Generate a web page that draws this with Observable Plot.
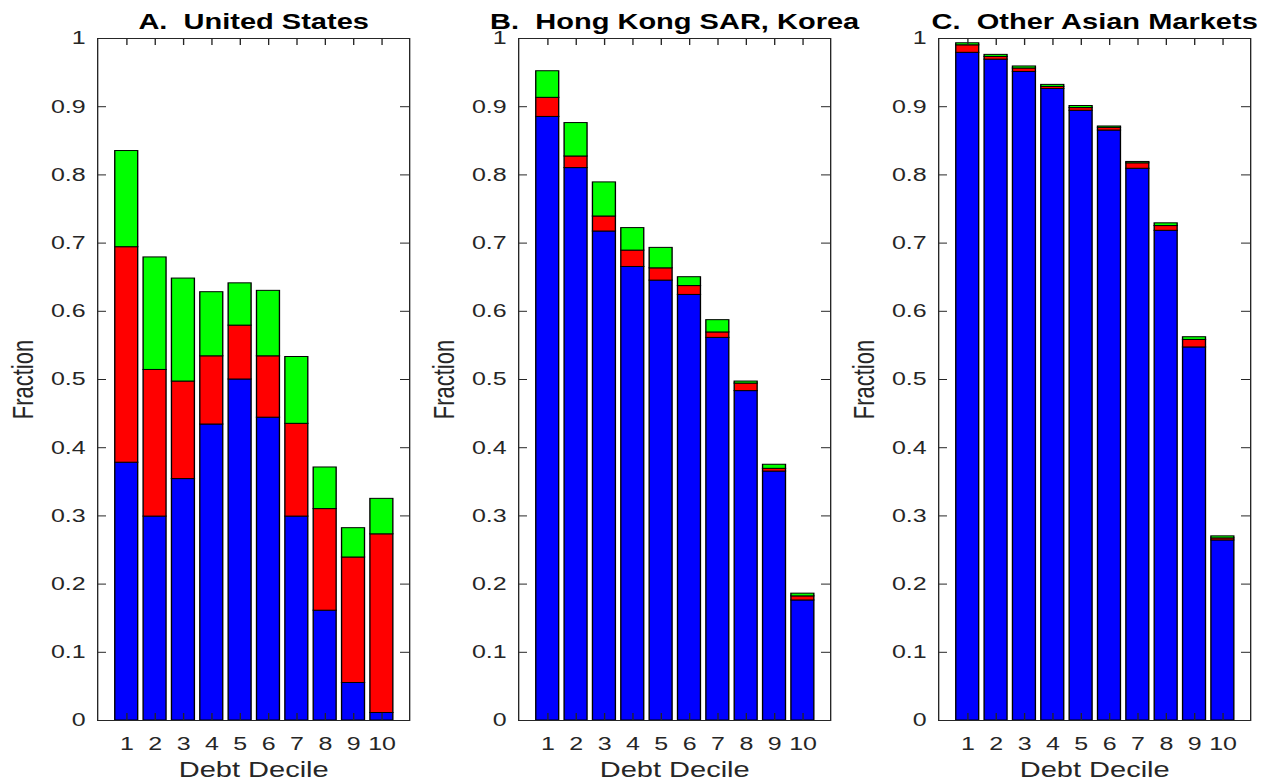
<!DOCTYPE html>
<html>
<head>
<meta charset="utf-8">
<script src="https://cdn.jsdelivr.net/npm/d3@7"></script>
<script src="https://cdn.jsdelivr.net/npm/@observablehq/plot@0.6"></script>
<style>
  body { margin: 0; background: #fff; }
  #chart { position: relative; width: 1268px; height: 783px; overflow: hidden; background: #fff; }
  .panel { position: absolute; top: 0; }
  .panel svg text { white-space: pre; }
</style>
</head>
<body>
<div id="chart"></div>
<script>
// ---------------- data ----------------
const deciles = [1, 2, 3, 4, 5, 6, 7, 8, 9, 10];
const seriesNames = ["Component 1", "Component 2", "Component 3"];
const seriesColors = ["#0000ff", "#ff0000", "#00ff00"];
const yTicks = [0, 0.1, 0.2, 0.3, 0.4, 0.5, 0.6, 0.7, 0.8, 0.9, 1];
const panelTitles = ["A.  United States", "B.  Hong Kong SAR, Korea", "C.  Other Asian Markets"];
const xLabel = "Debt Decile";
const yLabel = "Fraction";

// Panel A: United States (segment heights, bottom to top)
const usBlue  = [0.378, 0.299, 0.354, 0.434, 0.500, 0.444, 0.299, 0.161, 0.055, 0.011];
const usRed   = [0.316, 0.215, 0.143, 0.100, 0.079, 0.090, 0.136, 0.149, 0.184, 0.262];
const usGreen = [0.141, 0.165, 0.151, 0.094, 0.062, 0.096, 0.098, 0.061, 0.043, 0.052];

// Panel B: Hong Kong SAR, Korea
const hkBlue  = [0.885, 0.810, 0.717, 0.665, 0.645, 0.624, 0.561, 0.483, 0.365, 0.176];
const hkRed   = [0.028, 0.017, 0.022, 0.024, 0.018, 0.013, 0.008, 0.011, 0.004, 0.006];
const hkGreen = [0.039, 0.049, 0.050, 0.033, 0.030, 0.013, 0.018, 0.003, 0.006, 0.004];

// Panel C: Other Asian Markets
const asiaBlue  = [0.979, 0.969, 0.951, 0.926, 0.894, 0.865, 0.809, 0.718, 0.547, 0.264];
const asiaRed   = [0.011, 0.004, 0.005, 0.003, 0.004, 0.004, 0.008, 0.007, 0.011, 0.003];
const asiaGreen = [0.003, 0.003, 0.003, 0.003, 0.003, 0.002, 0.002, 0.004, 0.004, 0.003];

// ---------------- layout ----------------
const S = 1.35;            // horizontal stretch of the rendered figure
const PANEL_W = 421;       // on-screen width of each panel
const H = 783;
const ML = 97, MR = 12, MT = 38, MB = 63;
const BOX_W = (PANEL_W - ML - MR) / S;
const BOX_H = H - MT - MB;
const AXIS_COLOR = "#262626";
const FONT = "'Liberation Sans', Arial, Helvetica, sans-serif";

function rowsFor(blue, red, green) {
  const series = [blue, red, green];
  const rows = [];
  deciles.forEach((d, i) => {
    series.forEach((vals, s) => rows.push({decile: d, series: seriesNames[s], value: vals[i]}));
  });
  return rows;
}

function makePanel(title, rows) {
  return Plot.plot({
    width: PANEL_W / S,
    height: H,
    marginLeft: ML / S,
    marginRight: MR / S,
    marginTop: MT,
    marginBottom: MB,
    style: {fontFamily: FONT, color: AXIS_COLOR, background: "transparent", overflow: "visible"},
    x: {type: "band", domain: deciles, paddingInner: 0.2, paddingOuter: 0.6, label: null},
    y: {domain: [0, 1], label: null},
    color: {domain: seriesNames, range: seriesColors},
    marks: [
      Plot.barY(rows, {x: "decile", y: "value", fill: "series", stroke: "black", strokeWidth: 1}),
      Plot.frame({stroke: AXIS_COLOR, strokeWidth: 1}),
      Plot.tickY(yTicks, {y: d => d, insetRight: BOX_W - 9 / S, stroke: AXIS_COLOR}),
      Plot.tickY(yTicks, {y: d => d, insetLeft: BOX_W - 9 / S, stroke: AXIS_COLOR}),
      Plot.tickX(deciles, {x: d => d, insetBottom: BOX_H - 7, stroke: AXIS_COLOR}),
      Plot.tickX(deciles, {x: d => d, insetTop: BOX_H - 7, stroke: AXIS_COLOR}),
      Plot.axisY(yTicks, {tickSize: 0, tickPadding: 12 / S, tickFormat: d => String(d), fontSize: 18.5, label: null}),
      Plot.axisX({tickSize: 0, tickPadding: 16, fontSize: 18.5, label: null}),
      Plot.text([xLabel], {text: d => d, frameAnchor: "bottom", dy: 50, lineAnchor: "middle", fontSize: 21.5, fill: AXIS_COLOR}),
      Plot.text([yLabel], {text: d => d, frameAnchor: "left", dx: -(ML - 22.5) / S, rotate: -90, lineAnchor: "middle", textAnchor: "middle", fontSize: 22, fill: AXIS_COLOR}),
      Plot.text([title], {text: d => d, frameAnchor: "top", dy: -16.5, lineAnchor: "middle", fontSize: 21.5, fontWeight: "bold", fill: "black"})
    ]
  });
}

const panels = [
  [panelTitles[0], rowsFor(usBlue, usRed, usGreen)],
  [panelTitles[1], rowsFor(hkBlue, hkRed, hkGreen)],
  [panelTitles[2], rowsFor(asiaBlue, asiaRed, asiaGreen)]
];
const lefts = [0, 421, 841];
const chart = document.getElementById("chart");
panels.forEach(([title, rows], i) => {
  const svg = makePanel(title, rows);
  svg.setAttribute("width", PANEL_W);
  svg.setAttribute("height", H);
  svg.setAttribute("preserveAspectRatio", "none");
  svg.style.width = PANEL_W + "px";
  svg.style.height = H + "px";
  svg.style.maxWidth = "none";
  svg.style.background = "transparent";
  svg.style.overflow = "visible";
  const div = document.createElement("div");
  div.className = "panel";
  div.style.left = lefts[i] + "px";
  div.appendChild(svg);
  chart.appendChild(div);
});
</script>
</body>
</html>
